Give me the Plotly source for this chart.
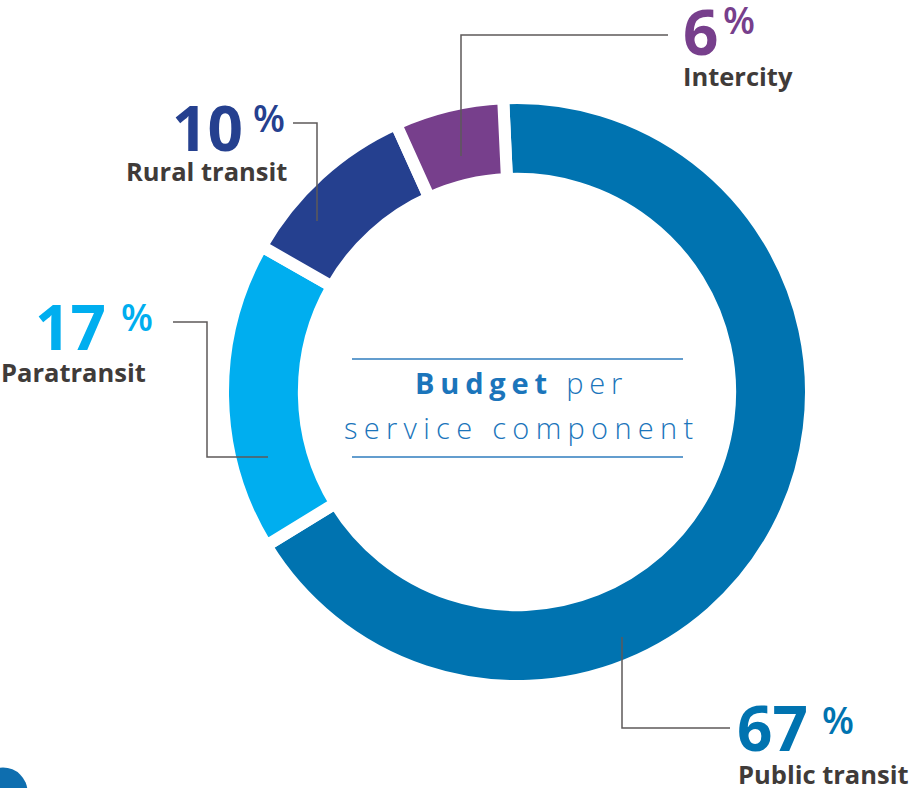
import plotly.graph_objects as go

# Budget share per service component (percent)
components = ["Public transit", "Paratransit", "Rural transit", "Intercity"]
shares = [67, 17, 10, 6]
slice_colors = ["#0073B0", "#00AEEF", "#25408F", "#773F8C"]

W, H = 917, 788
LABEL_GRAY = "#403B39"
LEADER_GRAY = "#5E5A59"
TITLE_BLUE = "#1B75BB"
FONT = "Open Sans"


def px(x):
    return x / W


def py(y):
    return 1 - y / H


fig = go.Figure()

# Donut ring centred at (517, 392); the pie draws slightly inside its domain,
# so the domain half-size is a little larger than the visible radius
cx, cy, r_dom = 517, 392, 294
fig.add_trace(go.Pie(
    labels=components,
    values=shares,
    sort=False,
    direction="clockwise",
    rotation=-2.7,
    hole=0.725,
    marker=dict(colors=slice_colors, line=dict(color="white", width=12)),
    textinfo="none",
    hoverinfo="label+percent",
    showlegend=False,
    domain=dict(x=[px(cx - r_dom), px(cx + r_dom)],
                y=[py(cy + r_dom), py(cy - r_dom)]),
))

annotations = []


def text(x, y, s, size, color, anchor, weight="bold"):
    annotations.append(dict(
        x=px(x), y=py(y), xref="paper", yref="paper", text=s,
        showarrow=False, xanchor=anchor, yanchor="middle",
        font=dict(family=FONT, size=size, color=color, weight=weight),
        borderpad=0,
    ))


pct_size, num_size, lab_size = 37, 62, 25.5

# Percent callouts built from the share values
label_layout = {
    # name: (number x, number anchor, number mid y, % left x, % mid y, label x, label anchor, label mid y)
    "Intercity": (682, "left", 31, 722, 20, 682, "left", 76),
    "Rural transit": (244, "right", 127, 252, 118, 288, "right", 171),
    "Paratransit": (107, "right", 326, 120, 316, 147, "right", 372),
    "Public transit": (736, "left", 727, 821, 719, 737, "left", 774),
}
for name, val, col in zip(components, shares, slice_colors):
    nx, na, ny, qx, qy, lx, la, ly = label_layout[name]
    text(nx, ny, f"{val}", num_size, col, na)
    text(qx, qy, "%", pct_size, col, "left", weight=600)
    text(lx, ly, name, lab_size, LABEL_GRAY, la)

# Centre title
annotations.append(dict(
    x=px(521), y=py(382), xref="paper", yref="paper", showarrow=False,
    xanchor="center", yanchor="middle", borderpad=0,
    text='<span style="letter-spacing:5.8px"><b>Budget</b> per</span>',
    font=dict(family=FONT, size=29, color=TITLE_BLUE, weight=300),
))
annotations.append(dict(
    x=px(521), y=py(428), xref="paper", yref="paper", showarrow=False,
    xanchor="center", yanchor="middle", borderpad=0,
    text='<span style="letter-spacing:6.3px">service component</span>',
    font=dict(family=FONT, size=29, color=TITLE_BLUE, weight=300),
))

shapes = []


def path(points, color=LEADER_GRAY, width=1.5):
    d = "M " + " L ".join(f"{px(x)},{py(y)}" for x, y in points)
    shapes.append(dict(type="path", path=d, xref="paper", yref="paper",
                       line=dict(color=color, width=width)))


# Leader lines
path([(461, 156), (461, 35), (668, 35)])
path([(317, 221), (317, 123), (293, 123)])
path([(268, 457), (207, 457), (207, 322), (173, 322)])
path([(622, 637), (622, 728), (730, 728)])

# Rules above and below the centre title
path([(352, 359), (683, 359)], color="#2F7DBE", width=1.5)
path([(352, 457), (683, 457)], color="#2F7DBE", width=1.5)

# Corner badge
shapes.append(dict(type="circle", xref="paper", yref="paper",
                   x0=px(3 - 24.5), x1=px(3 + 24.5),
                   y0=py(792 + 24.5), y1=py(792 - 24.5),
                   fillcolor="#0E6EAF", line=dict(width=0)))

fig.update_layout(
    width=W, height=H,
    margin=dict(l=0, r=0, t=0, b=0),
    paper_bgcolor="white", plot_bgcolor="white",
    annotations=annotations, shapes=shapes,
)

fig.write_html("out.html", config={"displayModeBar": False})
